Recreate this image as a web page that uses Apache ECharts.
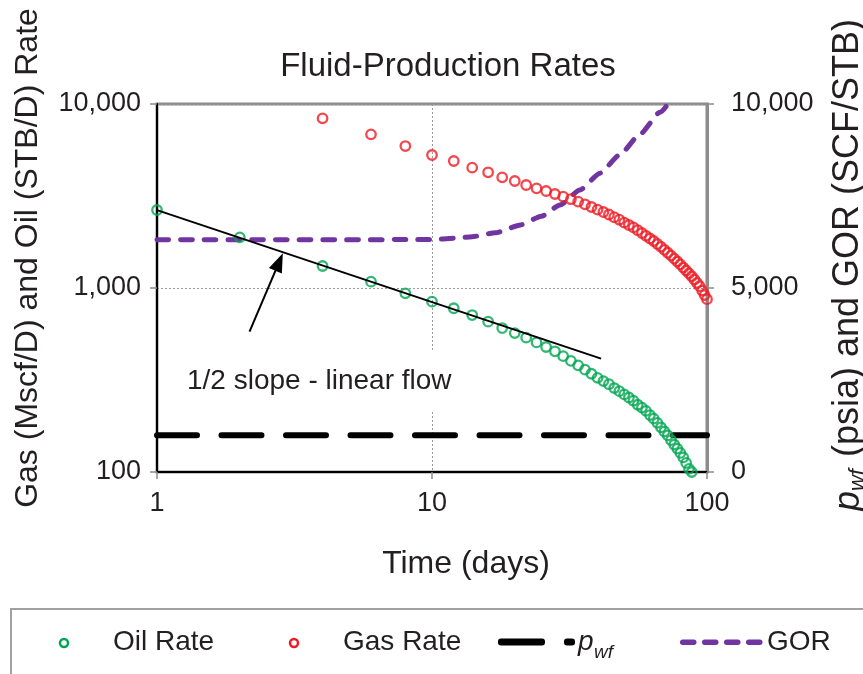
<!DOCTYPE html>
<html>
<head>
<meta charset="utf-8">
<title>Fluid-Production Rates</title>
<script src="https://cdn.jsdelivr.net/npm/echarts@6/dist/echarts.min.js"></script>
<style>
  html, body { margin: 0; padding: 0; background: #ffffff; }
  #chart { width: 863px; height: 674px; }
</style>
</head>
<body>
<div id="chart"></div>
<script>
// ---- data ----------------------------------------------------------------
const oilTimes = [1, 2, 4, 6, 8, 10, 12, 14, 16, 18, 20, 22, 24, 26, 28, 30, 32, 34, 36, 38,
  40, 42, 44, 46, 48, 50, 52, 54, 56, 58, 60, 62, 64, 66, 68, 70, 72, 74, 76, 78,
  80, 82, 84, 86, 88];
const oilRate = [2654, 1886, 1317, 1082, 936, 843, 776, 713, 656, 606, 569, 537, 506, 478, 453, 426, 402, 380, 360, 342,
  325, 312, 300, 286, 275, 264, 254, 244, 232, 224, 215, 204, 195, 185, 175, 166, 158, 149, 141, 134,
  127, 120, 112, 104, 100];

const gasTimes = [4, 6, 8, 10, 12, 14, 16, 18, 20, 22, 24, 26, 28, 30, 32, 34, 36, 38, 40, 42,
  44, 46, 48, 50, 52, 54, 56, 58, 60, 62, 64, 66, 68, 70, 72, 74, 76, 78, 80, 82,
  84, 86, 88, 90, 92, 94, 96, 98, 100];
const gasRate = [8360, 6843, 5910, 5282, 4900, 4507, 4255, 3996, 3815, 3629, 3482, 3367, 3243, 3135, 3038, 2945, 2851, 2756, 2668, 2588,
  2509, 2425, 2350, 2267, 2200, 2135, 2061, 1990, 1922, 1858, 1801, 1734, 1675, 1613, 1554, 1500, 1445, 1393, 1344, 1292,
  1245, 1202, 1158, 1112, 1065, 1023, 969, 916, 870];

const gorTimes = [1, 10, 12, 14, 17, 21, 25, 29.2, 34.5, 40.8, 48.3, 57, 67.5, 80, 100];
const gorValues = [6310, 6315, 6350, 6395, 6500, 6715, 6950, 7255, 7663, 8120, 8625, 9179, 9777, 10408, 11290];

const pwfTimes = [1, 100];
const pwfValues = [1000, 1000];

// half-slope (linear flow) guide line
const slopeTimes = [1, 41.2];
const slopeRates = [2650, 413];

// annotation arrow: tail and head (time, rate)
const arrowTail = [2.17, 579];
const arrowHead = [2.78, 1384];

const timeTicks = [1, 10, 100];
const rateTicks = [100, 1000, 10000];
const pressureTicks = [0, 5000, 10000];

// ---- styling ----------------------------------------------------------------
const FONT = "'Liberation Sans', Arial, Helvetica, sans-serif";
const INK = '#231f20';
const GREEN = '#00a651';
const RED = '#ed1c24';
const PURPLE = '#7035a0';
const GRAY = '#8c8c8c';

const zip = (xs, ys) => xs.map((x, i) => [x, ys[i]]);
const fmt = v => Number(v).toLocaleString('en-US');

const chart = echarts.init(document.getElementById('chart'), null, { renderer: 'canvas' });

const option = {
  animation: false,
  backgroundColor: '#ffffff',
  title: {
    text: 'Fluid-Production Rates',
    left: 443,
    top: 45,
    textAlign: 'center',
    textStyle: { fontFamily: FONT, fontSize: 33, fontWeight: 'normal', color: INK }
  },
  grid: {
    left: 157, right: 156, top: 104, bottom: 202,
    show: true, borderColor: GRAY, borderWidth: 3,
    containLabel: false, outerBoundsMode: 'none'
  },
  xAxis: {
    type: 'log', logBase: 10,
    min: timeTicks[0], max: timeTicks[timeTicks.length - 1],
    axisLine: { lineStyle: { color: '#000', width: 2 } },
    axisTick: { show: true, length: 7, lineStyle: { color: GRAY, width: 1.5 } },
    minorTick: { show: false },
    axisLabel: { fontFamily: FONT, fontSize: 27, color: INK, margin: 18, formatter: fmt },
    splitLine: { show: true, lineStyle: { color: '#9a9a9a', width: 1, type: [2, 2] } },
    name: 'Time (days)',
    nameLocation: 'middle',
    nameGap: 76,
    nameTextStyle: { fontFamily: FONT, fontSize: 32, color: INK, padding: [0, 0, 0, 68] }
  },
  yAxis: [
    {
      type: 'log', logBase: 10,
      min: rateTicks[0], max: rateTicks[rateTicks.length - 1],
      axisLine: { show: true, lineStyle: { color: '#000', width: 2 } },
      axisTick: { show: true, length: 7, lineStyle: { color: GRAY, width: 1.5 } },
      minorTick: { show: false },
      axisLabel: { fontFamily: FONT, fontSize: 27, color: INK, margin: 16, formatter: fmt },
      splitLine: { show: true, lineStyle: { color: '#9a9a9a', width: 1, type: [2, 2] } },
      name: 'Gas (Mscf/D) and Oil (STB/D) Rate',
      nameLocation: 'middle',
      nameGap: 113,
      nameTextStyle: { fontFamily: FONT, fontSize: 32, color: INK, padding: [0, 0, 0, 60] }
    },
    {
      type: 'value',
      min: pressureTicks[0], max: pressureTicks[pressureTicks.length - 1],
      interval: pressureTicks[1] - pressureTicks[0],
      position: 'right',
      axisLine: { show: true, lineStyle: { color: GRAY, width: 3 } },
      axisTick: { show: true, length: 7, lineStyle: { color: GRAY, width: 1.5 } },
      axisLabel: { fontFamily: FONT, fontSize: 27, color: INK, margin: 24, formatter: fmt },
      splitLine: { show: false },
      name: '{i|p}{s|wf}{n| (psia) and GOR (SCF/STB)}',
      nameLocation: 'middle',
      nameRotate: 90,
      nameGap: 118,
      nameTextStyle: {
        fontFamily: FONT, fontSize: 36, color: INK, padding: [0, 0, 0, 46],
        rich: {
          i: { fontFamily: FONT, fontSize: 36, fontStyle: 'italic', color: INK, lineHeight: 47 },
          s: { fontFamily: FONT, fontSize: 22, fontStyle: 'italic', color: INK, verticalAlign: 'top', padding: [22, 2, 0, 0] },
          n: { fontFamily: FONT, fontSize: 36, color: INK, lineHeight: 47 }
        }
      }
    }
  ],
  series: [
    {
      name: 'p_wf',
      type: 'line',
      yAxisIndex: 1,
      data: zip(pwfTimes, pwfValues),
      showSymbol: false, symbol: 'none',
      lineStyle: { color: '#000', width: 6, type: [40, 24.5], cap: 'round' },
      z: 3
    },
    {
      name: 'GOR',
      type: 'line',
      yAxisIndex: 1,
      data: zip(gorTimes, gorValues),
      showSymbol: false, symbol: 'none',
      smooth: 0.2, smoothMonotone: 'x',
      clip: true,
      lineStyle: { color: PURPLE, width: 5, type: [11.7, 12], cap: 'round' },
      z: 3
    },
    {
      name: 'Oil Rate',
      type: 'scatter',
      data: zip(oilTimes, oilRate),
      symbol: 'circle', symbolSize: 9.5,
      clip: false,
      itemStyle: { color: 'rgba(255,255,255,0)', borderColor: GREEN, borderWidth: 2.3 },
      z: 4
    },
    {
      name: 'Gas Rate',
      type: 'scatter',
      data: zip(gasTimes, gasRate),
      symbol: 'circle', symbolSize: 9.5,
      clip: false,
      itemStyle: { color: 'rgba(255,255,255,0)', borderColor: RED, borderWidth: 2.3 },
      z: 4
    },
    {
      name: 'Half slope',
      type: 'line',
      data: zip(slopeTimes, slopeRates),
      showSymbol: false, symbol: 'none',
      lineStyle: { color: '#000', width: 2 },
      z: 5,
      markLine: {
        silent: true,
        symbol: ['none', 'triangle'],
        symbolSize: [14, 19],
        label: { show: false },
        lineStyle: { color: '#000', width: 2, type: 'solid' },
        data: [[{ coord: arrowTail }, { coord: arrowHead }]]
      }
    }
  ],
  graphic: [
    // annotation
    {
      type: 'text', z: 50,
      x: 179, y: 381,
      style: {
        text: '1/2 slope - linear flow',
        fontFamily: FONT, fontSize: 28, fill: INK,
        align: 'left', verticalAlign: 'middle',
        backgroundColor: '#ffffff', padding: [16, 8, 16, 8]
      }
    },
    // legend frame
    { type: 'rect', z: 50, shape: { x: 11, y: 609, width: 880, height: 100 },
      style: { fill: 'none', stroke: '#a0a0a0', lineWidth: 2 } },
    // Oil Rate
    { type: 'circle', z: 51, shape: { cx: 64, cy: 643, r: 4 },
      style: { fill: '#fff', stroke: GREEN, lineWidth: 2.5 } },
    { type: 'text', z: 51, x: 113, y: 642,
      style: { text: 'Oil Rate', fontFamily: FONT, fontSize: 28, fill: INK, align: 'left', verticalAlign: 'middle' } },
    // Gas Rate
    { type: 'circle', z: 51, shape: { cx: 294, cy: 643, r: 4 },
      style: { fill: '#fff', stroke: RED, lineWidth: 2.5 } },
    { type: 'text', z: 51, x: 343, y: 642,
      style: { text: 'Gas Rate', fontFamily: FONT, fontSize: 28, fill: INK, align: 'left', verticalAlign: 'middle' } },
    // p_wf
    { type: 'rect', z: 51, shape: { x: 498, y: 638.5, width: 47, height: 7, r: 3 }, style: { fill: '#000' } },
    { type: 'rect', z: 51, shape: { x: 564, y: 638.5, width: 11, height: 7, r: 3 }, style: { fill: '#000' } },
    { type: 'text', z: 51, x: 578, y: 642,
      style: { text: 'p', fontFamily: FONT, fontSize: 28, fontStyle: 'italic', fill: INK, align: 'left', verticalAlign: 'middle' } },
    { type: 'text', z: 51, x: 594, y: 653,
      style: { text: 'wf', fontFamily: FONT, fontSize: 19, fontStyle: 'italic', fill: INK, align: 'left', verticalAlign: 'middle' } },
    // GOR
    { type: 'rect', z: 51, shape: { x: 680, y: 639.5, width: 16.5, height: 5.5, r: 2.7 }, style: { fill: PURPLE } },
    { type: 'rect', z: 51, shape: { x: 702, y: 639.5, width: 16.5, height: 5.5, r: 2.7 }, style: { fill: PURPLE } },
    { type: 'rect', z: 51, shape: { x: 724, y: 639.5, width: 16.5, height: 5.5, r: 2.7 }, style: { fill: PURPLE } },
    { type: 'rect', z: 51, shape: { x: 746, y: 639.5, width: 16.5, height: 5.5, r: 2.7 }, style: { fill: PURPLE } },
    { type: 'text', z: 51, x: 767, y: 642,
      style: { text: 'GOR', fontFamily: FONT, fontSize: 28, fill: INK, align: 'left', verticalAlign: 'middle' } }
  ]
};

chart.setOption(option);
</script>
</body>
</html>
